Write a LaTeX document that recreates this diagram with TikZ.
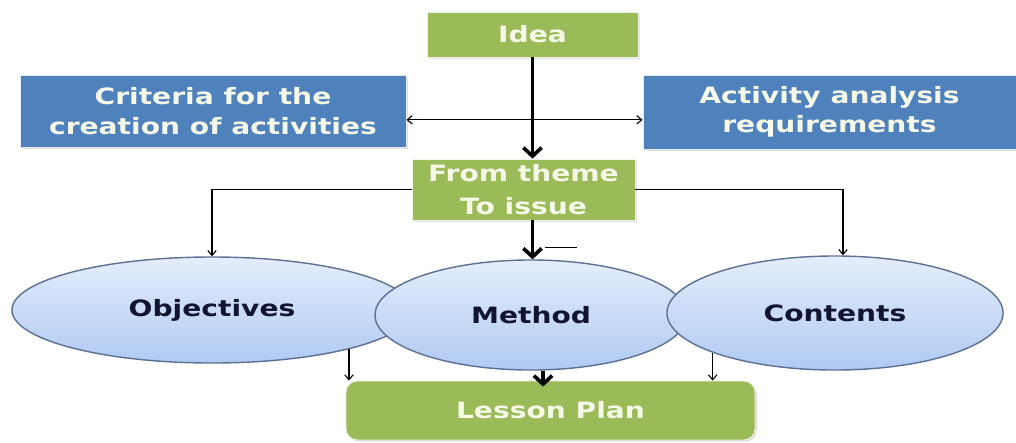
\documentclass[tikz,border=0pt]{standalone}
\usepackage{fontspec}
\setmainfont{DejaVu Sans}
\newfontfamily\boxfont[FakeStretch=1.25]{DejaVu Sans Bold}
\usetikzlibrary{shapes.geometric, arrows.meta, shadows, calc}
\definecolor{ideaGreen}{RGB}{155,187,89}
\definecolor{critBlue} {RGB}{79,129,189}
\definecolor{ellTop}   {RGB}{228,237,252}
\definecolor{ellBot}   {RGB}{176,202,242}
\definecolor{ellLine}  {RGB}{92,112,150}
\definecolor{ellText}  {RGB}{18,20,48}
\definecolor{boxText}  {RGB}{246,248,232}
\tikzset{
  gbox/.style = {rectangle, fill=ideaGreen, draw=white!85!ideaGreen,
                 line width=0.6pt, text=boxText, align=center, inner sep=2pt,
                 font=\boxfont\fontsize{16}{21}\selectfont,
                 drop shadow={opacity=0.25, shadow xshift=1.2pt, shadow yshift=-1.2pt}},
  bbox/.style = {gbox, fill=critBlue, draw=white!85!critBlue},
  ell/.style  = {ellipse, top color=ellTop, bottom color=ellBot, draw=ellLine,
                 line width=1pt, text=ellText, inner sep=0pt,
                 font=\boxfont\fontsize{16}{19}\selectfont},
  arr/.style  = {-{Straight Barb[length=3.5pt, width=6pt]}, line width=0.8pt},
  darr/.style = {{Straight Barb[length=3.5pt, width=6pt]}-{Straight Barb[length=3.5pt, width=6pt]},
                 line width=0.8pt},
  tarr/.style = {-{Straight Barb[length=6pt, width=13pt]}, line width=2.6pt},
}

\begin{document}
\begin{tikzpicture}[x=0.025cm, y=-0.025cm]
\useasboundingbox (0,0) rectangle (1016,442);

% ---- top row ----------------------------------------------------------------
\node[gbox, minimum width=5.275cm, minimum height=1.125cm] (idea) at (532.5,34.5) {Idea};

\node[bbox, minimum width=9.65cm, minimum height=1.8cm] (crit) at (213,111)
  {Criteria for the\\creation of activities};

\node[bbox, minimum width=9.325cm, minimum height=1.85cm] (req) at (829.5,112)
  {Activity analysis\\requirements};

\node[gbox, minimum width=5.575cm, minimum height=1.525cm,
      font=\boxfont\fontsize{16}{24}\selectfont] (theme) at (523.5,189.5)
  {From theme\\To issue};

% ---- ellipses ---------------------------------------------------------------
\node[ell, minimum width=10cm, minimum height=2.65cm] (obj) at (212,310) {Objectives};
\node[ell, minimum width=7.8cm, minimum height=2.75cm] (meth) at (531,315) {Method};
\node[ell, minimum width=8.4cm, minimum height=2.85cm] (cont) at (835,313) {Contents};

% ---- bottom -----------------------------------------------------------------
\node[gbox, rounded corners=8pt, minimum width=10.225cm, minimum height=1.475cm]
  (lesson) at (550.5,410.5) {Lesson Plan};

% ---- arrows -----------------------------------------------------------------
\draw[darr] ([yshift=-0.22cm]crit.east) -- ([yshift=-0.22cm]crit.east -| req.west);
\draw[tarr] (idea.south) -- (idea.south |- theme.north);
\draw[tarr] (idea.south |- theme.south) -- (idea.south |- meth.north);
\draw[line width=0.8pt] ([xshift=0.35cm, yshift=0.3cm]meth.north)
  -- ([xshift=1.15cm, yshift=0.3cm]meth.north);

\draw[arr] (theme.west) -| (obj.north);
\draw[arr] (theme.east) -| ([xshift=0.2cm]cont.north);

\draw[arr]  (obj.-16) -- (obj.-16 |- lesson.north);
\draw[arr]  (cont.198) -- (cont.198 |- lesson.north);
\draw[tarr] ([xshift=0.3cm]meth.south) -- ([xshift=0.3cm, yshift=-0.15cm]meth.south |- lesson.north);

\end{tikzpicture}
\end{document}
